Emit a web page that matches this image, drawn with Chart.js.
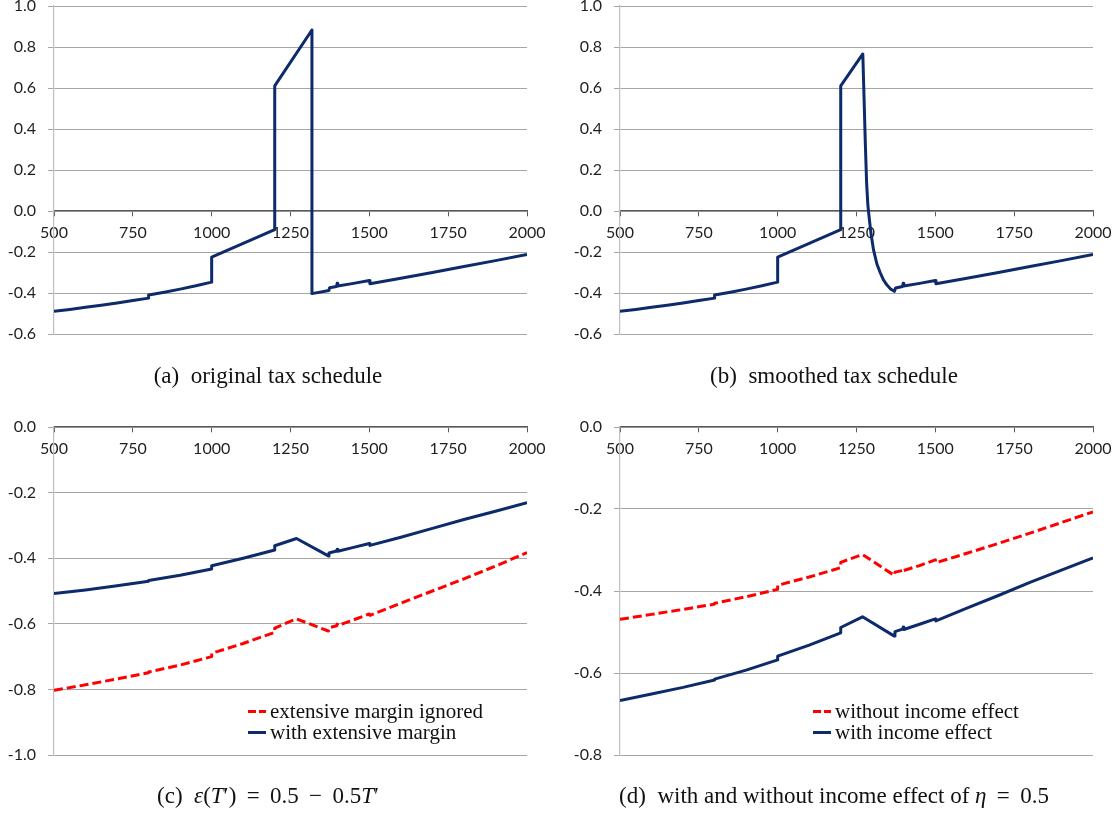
<!DOCTYPE html>
<html>
<head>
<meta charset="utf-8">
<title>Tax schedule panels</title>
<script src="https://cdn.jsdelivr.net/npm/chart.js@4.4.1/dist/chart.umd.min.js"></script>
<style>
  html, body { margin: 0; padding: 0; background: #fff; }
  #page { position: relative; width: 1120px; height: 818px; overflow: hidden; background: #fff; }
  .panel { position: absolute; }
  .caption {
    position: absolute;
    font-family: "Liberation Serif", "DejaVu Serif", serif;
    font-size: 23px;
    color: #111;
    white-space: nowrap;
    transform: translate(-50%, -50%);
  }
  .caption i { font-style: italic; }
  .legend {
    position: absolute;
    font-family: "Liberation Serif", "DejaVu Serif", serif;
    font-size: 21px;
    color: #111;
    line-height: 21px;
    white-space: nowrap;
  }
  .legend .row { display: flex; align-items: center; height: 21px; }
  .legend .swatch { width: 18px; height: 3px; margin-right: 4px; }
  .legend .dash { background: repeating-linear-gradient(90deg, #ff0000 0 8px, transparent 8px 11px); }
  .legend .solid { background: #0d2a6a; }
</style>
</head>
<body>
<div id="page">
  <canvas id="chart-a" class="panel" width="560" height="400" style="left:0;top:0"></canvas>
  <canvas id="chart-b" class="panel" width="560" height="400" style="left:560px;top:0"></canvas>
  <canvas id="chart-c" class="panel" width="560" height="408" style="left:0;top:410px"></canvas>
  <canvas id="chart-d" class="panel" width="560" height="408" style="left:560px;top:410px"></canvas>

  <div class="caption" style="left:268px;top:376px">(a)&nbsp; original tax schedule</div>
  <div class="caption" style="left:834px;top:376px">(b)&nbsp; smoothed tax schedule</div>
  <div class="caption" style="left:268px;top:796px">(c)&nbsp; <i>ε</i>(<i>T</i>′)&thinsp; = &thinsp;0.5 &thinsp;−&thinsp; 0.5<i>T</i>′</div>
  <div class="caption" style="left:834px;top:796px">(d)&nbsp; with and without income effect of <i>η</i>&thinsp; = &thinsp;0.5</div>

  <div class="legend" style="left:248px;top:701px">
    <div class="row"><span class="swatch dash"></span>extensive margin ignored</div>
    <div class="row"><span class="swatch solid"></span>with extensive margin</div>
  </div>
  <div class="legend" style="left:813px;top:701px">
    <div class="row"><span class="swatch dash"></span>without income effect</div>
    <div class="row"><span class="swatch solid"></span>with income effect</div>
  </div>
</div>

<script>
// --- data ---

// x ticks shared by all panels
const xTicks = [500, 750, 1000, 1250, 1500, 1750, 2000];

// (a) original tax schedule
const origX = [500, 550, 600, 650, 700, 750, 800, 800, 850, 900, 950, 1000, 1000, 1100, 1200, 1200,
  1318, 1318, 1372, 1374, 1396, 1398, 1400, 1450, 1500, 1502, 1600, 1700, 1800, 1900, 2000];
const origY = [-0.489, -0.480, -0.470, -0.460, -0.449, -0.437, -0.425, -0.410, -0.396, -0.381, -0.365,
  -0.347, -0.225, -0.158, -0.091, 0.610, 0.883, -0.403, -0.388, -0.374, -0.368, -0.352, -0.366,
  -0.353, -0.339, -0.355, -0.328, -0.300, -0.271, -0.242, -0.212];

// (b) smoothed tax schedule
const smoothX = [500, 550, 600, 650, 700, 750, 800, 800, 850, 900, 950, 1000, 1000, 1100, 1200, 1200,
  1270, 1274, 1278, 1282, 1286, 1290, 1296, 1304, 1315, 1325, 1335, 1346, 1358, 1370, 1374, 1396,
  1398, 1400, 1450, 1500, 1502, 1600, 1700, 1800, 1900, 2000];
const smoothY = [-0.489, -0.480, -0.470, -0.460, -0.449, -0.437, -0.425, -0.410, -0.396, -0.381, -0.365,
  -0.347, -0.225, -0.158, -0.091, 0.610, 0.766, 0.55, 0.33, 0.14, 0.03, -0.03, -0.11, -0.19, -0.26,
  -0.30, -0.335, -0.36, -0.38, -0.392, -0.376, -0.368, -0.352, -0.366, -0.353, -0.339, -0.355,
  -0.328, -0.300, -0.271, -0.242, -0.212];

// (c) and (d) share the same income grid
const optX = [500, 600, 700, 800, 800, 900, 1000, 1000, 1100, 1200, 1200, 1269, 1370, 1372, 1396, 1398,
  1400, 1450, 1500, 1502, 1600, 1700, 1800, 1900, 2000];

// (c) epsilon(T') = 0.5 - 0.5T'
const extIgnoredY = [-0.803, -0.786, -0.768, -0.749, -0.747, -0.726, -0.700, -0.690, -0.660, -0.626,
  -0.613, -0.585, -0.622, -0.612, -0.606, -0.601, -0.605, -0.588, -0.570, -0.574, -0.537, -0.500,
  -0.463, -0.424, -0.383];
const withExtY = [-0.508, -0.497, -0.484, -0.470, -0.468, -0.452, -0.433, -0.423, -0.400, -0.375,
  -0.362, -0.340, -0.393, -0.384, -0.378, -0.373, -0.379, -0.367, -0.355, -0.361, -0.336, -0.309,
  -0.282, -0.257, -0.231];

// (d) with and without income effect
const noIncomeY = [-0.469, -0.457, -0.445, -0.432, -0.430, -0.414, -0.396, -0.386, -0.366, -0.343,
  -0.330, -0.311, -0.362, -0.354, -0.350, -0.346, -0.350, -0.338, -0.324, -0.331, -0.308, -0.284,
  -0.259, -0.233, -0.207];
const withIncomeY = [-0.667, -0.651, -0.635, -0.617, -0.615, -0.593, -0.568, -0.559, -0.532, -0.502,
  -0.489, -0.463, -0.510, -0.499, -0.493, -0.488, -0.494, -0.481, -0.468, -0.473, -0.442, -0.411,
  -0.379, -0.349, -0.319];

const NAVY = '#0d2a6a';
const RED = '#ff0000';
const TICK_FONT = { family: 'Lato, "Open Sans", sans-serif', size: 16 };

function points(xs, ys) {
  return xs.map((x, i) => ({ x: x, y: ys[i] }));
}

function solid(xs, ys) {
  return { data: points(xs, ys), borderColor: NAVY, borderWidth: 3, borderJoinStyle: 'round',
           pointRadius: 0, tension: 0 };
}

function dashed(xs, ys) {
  return { data: points(xs, ys), borderColor: RED, borderWidth: 3, borderDash: [9, 4],
           borderJoinStyle: 'round', pointRadius: 0, tension: 0 };
}

/**
 * one panel: y range + padding that places the plot box on the page
 */
function makePanel(id, datasets, yMin, yMax, pad) {
  return new Chart(document.getElementById(id), {
    type: 'line',
    data: { datasets: datasets },
    options: {
      responsive: false,
      animation: false,
      layout: { padding: pad },
      plugins: { legend: { display: false }, tooltip: { enabled: false } },
      scales: {
        x: {
          type: 'linear',
          position: { y: 0 },
          min: 500,
          max: 2000,
          afterBuildTicks: (s) => { s.ticks = xTicks.map(v => ({ value: v })); },
          afterFit: (s) => { s.paddingLeft = 0; s.paddingRight = 0; },
          ticks: { font: TICK_FONT, color: '#1f1f1f', padding: 7, maxRotation: 0, autoSkip: false,
                   callback: (v) => String(v) },
          grid: { drawOnChartArea: false, drawTicks: true, tickLength: 5, color: '#595959' },
          border: { color: '#595959', width: 1.3 }
        },
        y: {
          min: yMin,
          max: yMax,
          afterFit: (s) => { s.width = 54; s.paddingTop = 0; s.paddingBottom = 0; },
          ticks: { stepSize: 0.2, font: TICK_FONT, color: '#1f1f1f', padding: 12,
                   callback: (v) => (Math.abs(v) < 1e-9 ? 0 : v).toFixed(1) },
          grid: { color: '#a6a6a6', lineWidth: 1, tickLength: 6 },
          border: { color: '#bfbfbf', width: 1.2 }
        }
      }
    }
  });
}

makePanel('chart-a', [solid(origX, origY)], -0.6, 1.0, { top: 6, bottom: 66, left: 0, right: 33 });
makePanel('chart-b', [solid(smoothX, smoothY)], -0.6, 1.0, { top: 6, bottom: 66, left: 6, right: 27 });
makePanel('chart-c', [dashed(optX, extIgnoredY), solid(optX, withExtY)], -1.0, 0, { top: 17, bottom: 63, left: 0, right: 33 });
makePanel('chart-d', [dashed(optX, noIncomeY), solid(optX, withIncomeY)], -0.8, 0, { top: 17, bottom: 63, left: 6, right: 27 });
</script>
</body>
</html>
